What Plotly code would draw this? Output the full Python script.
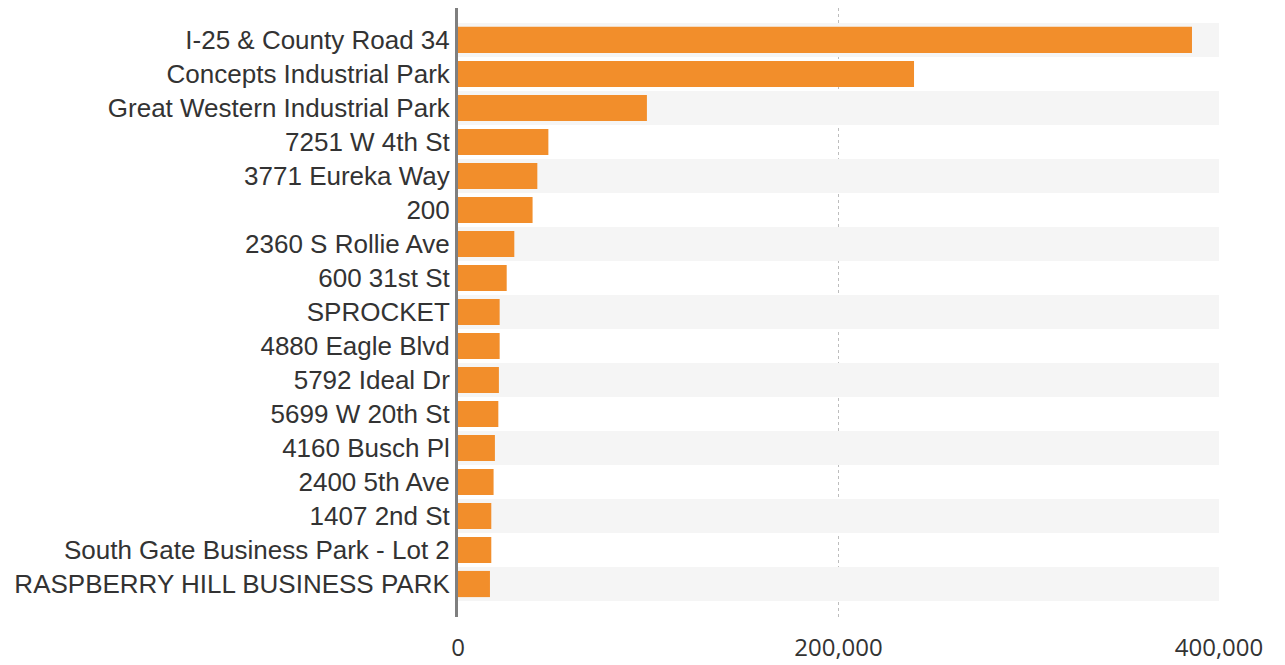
import plotly.graph_objects as go

# Sites ranked by value (top to bottom)
sites = [
    "I-25 & County Road 34",
    "Concepts Industrial Park",
    "Great Western Industrial Park",
    "7251 W 4th St",
    "3771 Eureka Way",
    "200",
    "2360 S Rollie Ave",
    "600 31st St",
    "SPROCKET",
    "4880 Eagle Blvd",
    "5792 Ideal Dr",
    "5699 W 20th St",
    "4160 Busch Pl",
    "2400 5th Ave",
    "1407 2nd St",
    "South Gate Business Park - Lot 2",
    "RASPBERRY HILL BUSINESS PARK",
]
values = [
    385800, 239700, 99300, 47500, 41700, 39200, 29600, 25600, 21900,
    21900, 21500, 21200, 19400, 18700, 17500, 17500, 16800,
]
x_ticks = [0, 200000, 400000]
x_tick_text = ["0", "200,000", "400,000"]

BAR_COLOR = "#F28E2B"
BAND_COLOR = "#F5F5F5"
TEXT_COLOR = "#333333"
LABEL_FONT = "Liberation Sans, Arial, sans-serif"
TICK_FONT = "Open Sans, sans-serif"

n = len(sites)
idx = list(range(n))

fig = go.Figure(
    go.Bar(
        x=values,
        y=idx,
        orientation="h",
        width=0.77,
        marker=dict(color=BAR_COLOR, line=dict(width=0)),
        hovertemplate="%{text}: %{x:,}<extra></extra>",
        text=sites,
        textposition="none",
    )
)

# Alternating row bands
shapes = []
for i in range(0, n, 2):
    shapes.append(
        dict(
            type="rect", xref="x", yref="y",
            x0=0, x1=x_ticks[-1], y0=i - 0.5, y1=i + 0.5,
            fillcolor=BAND_COLOR, line=dict(width=0), layer="between",
        )
    )

fig.update_layout(
    width=1285,
    height=665,
    margin=dict(l=458, r=66, t=8, b=48, autoexpand=False),
    paper_bgcolor="white",
    plot_bgcolor="white",
    showlegend=False,
    shapes=shapes,
    font=dict(family=LABEL_FONT, color=TEXT_COLOR, size=26),
)

fig.update_xaxes(
    automargin=False,
    range=[0, x_ticks[-1]],
    tickvals=x_ticks,
    ticktext=x_tick_text,
    showgrid=True,
    gridcolor="#BDBDBD",
    gridwidth=1,
    griddash="dot",
    zeroline=False,
    showline=False,
    ticks="",
    ticklabelstandoff=14,
    tickfont=dict(size=24, color=TEXT_COLOR, family=TICK_FONT),
)

fig.update_yaxes(
    automargin=False,
    range=[n - 0.5 + 0.47, -0.5 - 0.44],
    tickvals=idx,
    ticktext=sites,
    showgrid=False,
    zeroline=False,
    showline=True,
    linecolor="#7F7F7F",
    linewidth=3,
    ticks="",
    ticklabelstandoff=0,
    tickfont=dict(size=26, color=TEXT_COLOR, family=LABEL_FONT),
)

fig.write_html("out.html")
